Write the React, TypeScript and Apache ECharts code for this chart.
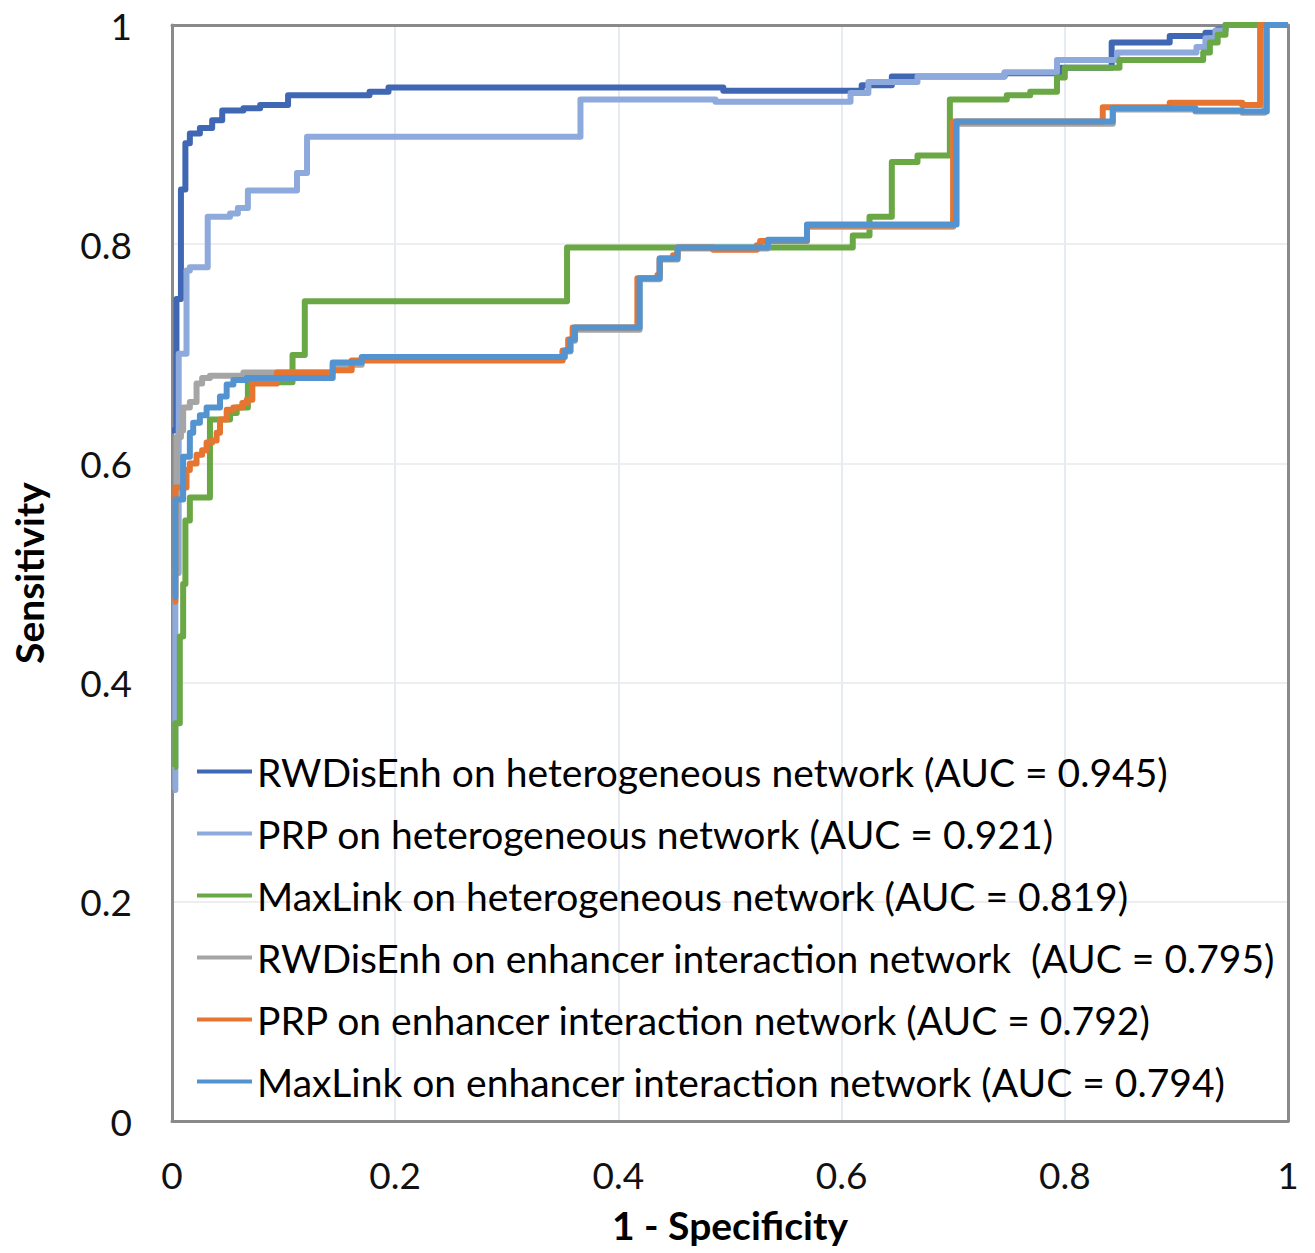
import React, { useEffect, useRef } from "react";
import * as echarts from "echarts";

const xTicks = [0, 0.2, 0.4, 0.6, 0.8, 1];
const yTicks = [0, 0.2, 0.4, 0.6, 0.8, 1];

const seriesNames = [
  "RWDisEnh on heterogeneous network (AUC = 0.945)",
  "PRP on heterogeneous network (AUC = 0.921)",
  "MaxLink on heterogeneous network (AUC = 0.819)",
  "RWDisEnh on enhancer interaction network  (AUC = 0.795)",
  "PRP on enhancer interaction network (AUC = 0.792)",
  "MaxLink on enhancer interaction network (AUC = 0.794)",
];

const seriesColors = ["#3F67B3", "#8EA9DB", "#6AA745", "#A5A5A5", "#E57530", "#5393CF"];

// ROC points: [1 - specificity, sensitivity] (step at each point)
const rwHetero: number[][] = [
  [0, 0.63], [0.004, 0.75], [0.008, 0.85], [0.012, 0.892], [0.016, 0.901], [0.025, 0.906],
  [0.036, 0.913], [0.045, 0.922], [0.064, 0.924], [0.079, 0.927], [0.104, 0.936],
  [0.177, 0.939], [0.194, 0.943], [0.494, 0.94], [0.618, 0.945], [0.645, 0.953],
  [0.746, 0.956], [0.796, 0.961], [0.842, 0.984], [0.894, 0.99], [0.926, 0.993],
  [0.937, 0.996], [0.944, 1.0], [1, 1],
];
const prpHetero: number[][] = [
  [0.001, 0.302], [0.003, 0.5], [0.006, 0.7], [0.013, 0.776], [0.016, 0.779], [0.032, 0.825],
  [0.052, 0.828], [0.059, 0.833], [0.068, 0.849], [0.112, 0.865], [0.121, 0.898],
  [0.366, 0.932], [0.487, 0.93], [0.608, 0.938], [0.624, 0.948], [0.668, 0.953],
  [0.746, 0.957], [0.793, 0.968], [0.847, 0.975], [0.918, 0.98], [0.926, 0.988],
  [0.935, 0.995], [0.944, 1.0], [1, 1],
];
const maxHetero: number[][] = [
  [0.002, 0.323], [0.003, 0.363], [0.007, 0.442], [0.01, 0.49], [0.012, 0.548], [0.016, 0.569],
  [0.034, 0.64], [0.052, 0.646], [0.058, 0.651], [0.068, 0.674], [0.108, 0.699],
  [0.119, 0.748], [0.354, 0.797], [0.61, 0.808], [0.625, 0.825], [0.645, 0.875],
  [0.668, 0.881], [0.697, 0.932], [0.748, 0.936], [0.769, 0.939], [0.793, 0.952],
  [0.8, 0.961], [0.849, 0.968], [0.924, 0.975], [0.93, 0.984], [0.937, 0.991],
  [0.944, 1.0], [1, 1],
];
const rwEnh: number[][] = [
  [0, 0.5], [0.004, 0.624], [0.008, 0.63], [0.01, 0.651], [0.016, 0.656], [0.022, 0.673],
  [0.027, 0.678], [0.034, 0.68], [0.064, 0.683], [0.144, 0.69], [0.17, 0.695],
  [0.35, 0.702], [0.357, 0.712], [0.361, 0.722], [0.419, 0.768], [0.437, 0.786],
  [0.453, 0.796], [0.534, 0.803], [0.569, 0.816], [0.7, 0.91], [0.843, 0.923],
  [0.917, 0.921], [0.959, 0.92], [0.979, 1.0], [1, 1],
];
const prpEnh: number[][] = [
  [0.001, 0.474], [0.003, 0.578], [0.013, 0.594], [0.016, 0.6], [0.022, 0.608], [0.027, 0.612],
  [0.031, 0.619], [0.036, 0.621], [0.04, 0.628], [0.043, 0.64], [0.049, 0.649],
  [0.055, 0.651], [0.063, 0.655], [0.067, 0.658], [0.072, 0.673], [0.094, 0.683],
  [0.144, 0.685], [0.161, 0.694], [0.35, 0.703], [0.355, 0.713], [0.359, 0.724],
  [0.417, 0.769], [0.435, 0.772], [0.437, 0.787], [0.449, 0.79], [0.453, 0.797],
  [0.485, 0.795], [0.524, 0.799], [0.527, 0.803], [0.569, 0.817], [0.7, 0.912],
  [0.834, 0.925], [0.894, 0.929], [0.959, 0.927], [0.975, 1.0], [1, 1],
];
const maxEnh: number[][] = [
  [0.001, 0.478], [0.003, 0.567], [0.01, 0.606], [0.016, 0.628], [0.019, 0.637], [0.025, 0.644],
  [0.031, 0.651], [0.043, 0.661], [0.049, 0.672], [0.055, 0.676], [0.067, 0.678],
  [0.144, 0.692], [0.17, 0.697], [0.352, 0.703], [0.357, 0.713], [0.361, 0.724],
  [0.419, 0.769], [0.437, 0.787], [0.453, 0.797], [0.534, 0.804], [0.569, 0.818],
  [0.703, 0.912], [0.843, 0.924], [0.917, 0.922], [0.959, 0.921], [0.981, 1.0], [1, 1],
];

const seriesData = [rwHetero, prpHetero, maxHetero, rwEnh, prpEnh, maxEnh];

const FONT = "Lato";
const BORDER = { show: true, onZero: false, lineStyle: { color: "#8A8A8A", width: 3 } };

export default function App() {
  const ref = useRef<HTMLDivElement>(null);
  useEffect(() => {
    if (!ref.current) return;
    const chart = echarts.init(ref.current, undefined, { renderer: "svg" });
    const frameAxis = {
      type: "value",
      min: 0,
      max: 1,
      interval: 0.2,
      axisLine: BORDER,
      axisTick: { show: false },
      axisLabel: { show: false },
      splitLine: { show: false },
    };
    chart.setOption({
      animation: false,
      backgroundColor: "#ffffff",
      textStyle: { fontFamily: FONT },
      grid: {
        left: 172,
        top: 25,
        width: 1116,
        height: 1096,
        containLabel: false,
        outerBoundsMode: "none",
      },
      xAxis: [
        {
          type: "value",
          min: xTicks[0],
          max: xTicks[xTicks.length - 1],
          interval: 0.2,
          name: "1 - Specificity",
          nameLocation: "middle",
          nameGap: 84,
          nameTextStyle: { fontFamily: FONT, fontSize: 39, fontWeight: "bold", color: "#000" },
          axisLine: BORDER,
          axisTick: { show: false },
          axisLabel: { fontFamily: FONT, fontSize: 37, color: "#111", margin: 35 },
          splitLine: { show: true, lineStyle: { color: "#E6EAF2", width: 2 } },
        },
        { ...frameAxis, position: "top" },
      ],
      yAxis: [
        {
          type: "value",
          min: yTicks[0],
          max: yTicks[yTicks.length - 1],
          interval: 0.2,
          name: "Sensitivity",
          nameLocation: "middle",
          nameGap: 124,
          nameTextStyle: { fontFamily: FONT, fontSize: 39, fontWeight: "bold", color: "#000" },
          axisLine: BORDER,
          axisTick: { show: false },
          axisLabel: { fontFamily: FONT, fontSize: 37, color: "#111", margin: 40 },
          splitLine: { show: true, lineStyle: { color: "#ECEEF2", width: 2 } },
        },
        { ...frameAxis, position: "right" },
      ],
      legend: {
        orient: "vertical",
        left: 197,
        top: 749,
        itemWidth: 55,
        itemHeight: 4,
        itemGap: 17,
        icon: "rect",
        padding: 0,
        textStyle: { fontFamily: FONT, fontSize: 39, lineHeight: 45, color: "#000" },
        data: seriesNames,
      },
      series: seriesData.map((d, i) => ({
        name: seriesNames[i],
        type: "line",
        step: "end",
        data: d,
        xAxisIndex: 0,
        yAxisIndex: 0,
        showSymbol: false,
        symbol: "none",
        color: seriesColors[i],
        lineStyle: { color: seriesColors[i], width: 6, join: "round" },
        z: 2 + i,
      })),
    });
    return () => chart.dispose();
  }, []);
  return (
    <div
      ref={ref}
      style={{ position: "absolute", left: 0, top: 0, width: 1315, height: 1253 }}
    />
  );
}
